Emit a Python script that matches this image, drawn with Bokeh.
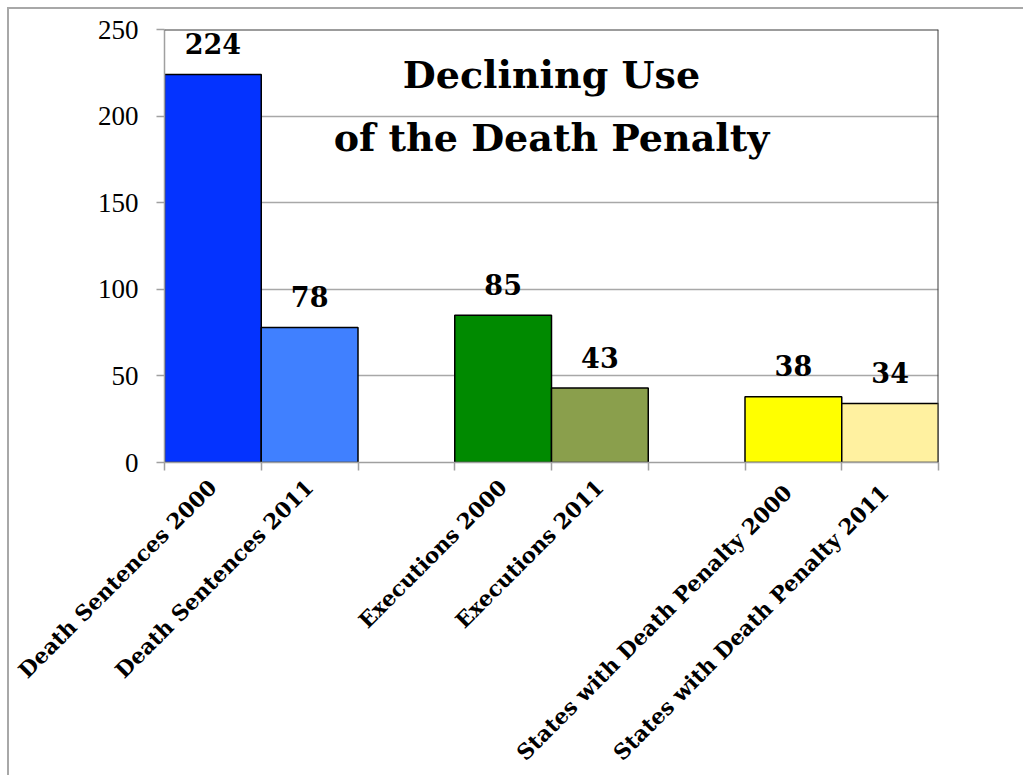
from bokeh.plotting import figure
from bokeh.models import (Range1d, FixedTicker, LinearAxis, Span, Label,
                          ColumnDataSource)
from bokeh.core.properties import value
from bokeh.embed import file_html
from bokeh.resources import INLINE

# ---- data ----
groups = ["Death Sentences", "Executions", "States with Death Penalty "]
years = ["2000", "2011"]
labels = ["Death Sentences 2000", "Death Sentences 2011",
          "Executions 2000", "Executions 2011",
          "States with Death Penalty  2000", "States with Death Penalty  2011"]
values = [224, 78, 85, 43, 38, 34]
colors = ["#0433FF", "#4080FF", "#008A00", "#8A9F4C", "#FFFF00", "#FFF1A0"]
y_ticks = [0, 50, 100, 150, 200, 250]
title_lines = ["Declining Use", "of the Death Penalty"]

# slot layout: each group takes 2 bars + 1 empty slot
xs = []
for gi in range(len(groups)):
    for yi in range(len(years)):
        xs.append(gi * 3 + yi + 0.5)
n_slots = len(groups) * 3 - 1

src = ColumnDataSource(dict(x=xs, top=values, color=colors,
                            txt=[str(v) for v in values]))

SERIF = "DejaVu Serif"

p = figure(width=1016, height=768, output_backend="svg", toolbar_location=None,
           x_range=Range1d(0, n_slots), y_range=Range1d(0, 250),
           x_axis_location=None, y_axis_location=None,
           min_border_left=155, min_border_right=87,
           min_border_top=20, min_border_bottom=315)
p.outline_line_color = None
p.background_fill_color = "white"
p.border_fill_color = "white"
p.styles = {"border-top": "2px solid #A8A8A8", "border-left": "2px solid #A8A8A8",
            "margin-top": "7px", "margin-left": "7px"}

# y axis
yax = LinearAxis(ticker=FixedTicker(ticks=y_ticks, minor_ticks=[]))
yax.axis_line_color = "#A0A0A0"
yax.axis_line_width = 1.5
yax.major_tick_line_color = "#A0A0A0"
yax.major_tick_line_width = 1.5
yax.major_tick_out = 8
yax.major_tick_in = 0
yax.minor_tick_line_color = None
yax.major_label_text_font = "Liberation Serif"
yax.major_label_text_font_size = "27px"
yax.major_label_text_color = "black"
yax.major_label_standoff = 18
p.add_layout(yax, "left")

# x axis: labels at bar centres, ticks at slot boundaries
xax = LinearAxis(ticker=FixedTicker(ticks=xs, minor_ticks=list(range(n_slots + 1))))
xax.major_label_overrides = {x: lab for x, lab in zip(xs, labels)}
xax.axis_line_color = "#A0A0A0"
xax.axis_line_width = 1.5
xax.major_tick_line_color = None
xax.minor_tick_line_color = "#A0A0A0"
xax.minor_tick_line_width = 1.5
xax.minor_tick_out = 8
xax.minor_tick_in = 0
xax.major_label_orientation = 0.785398
xax.major_label_text_font = SERIF
xax.major_label_text_font_style = "bold"
xax.major_label_text_font_size = "21.5px"
xax.major_label_text_color = "black"
xax.major_label_standoff = 13
p.add_layout(xax, "below")

# grid
p.ygrid.ticker = FixedTicker(ticks=y_ticks)
p.ygrid.grid_line_color = "#A8A8A8"
p.ygrid.grid_line_width = 1.5
p.xgrid.grid_line_color = None

# frame top and right edges
p.add_layout(Span(location=250, dimension="width", line_color="#3A3A3A", line_width=2))
p.add_layout(Span(location=n_slots, dimension="height", line_color="#3A3A3A", line_width=2))

# bars
p.vbar(x="x", top="top", bottom=0, width=1.0, fill_color="color",
       line_color="black", line_width=1.5, source=src)

# value labels
p.text(x="x", y="top", text="txt", source=src, y_offset=-31,
       text_align="center", text_baseline="middle",
       text_font=value(SERIF), text_font_style="bold",
       text_font_size="27px", text_color="black")

# title inside plot
for ty, line in zip([224, 187.5], title_lines):
    p.add_layout(Label(x=4.0, y=ty, text=line, text_align="center",
                       text_baseline="middle", text_font=SERIF,
                       text_font_style="bold", text_font_size="38px",
                       text_color="black"))

open("out.html", "w").write(file_html(p, INLINE))
